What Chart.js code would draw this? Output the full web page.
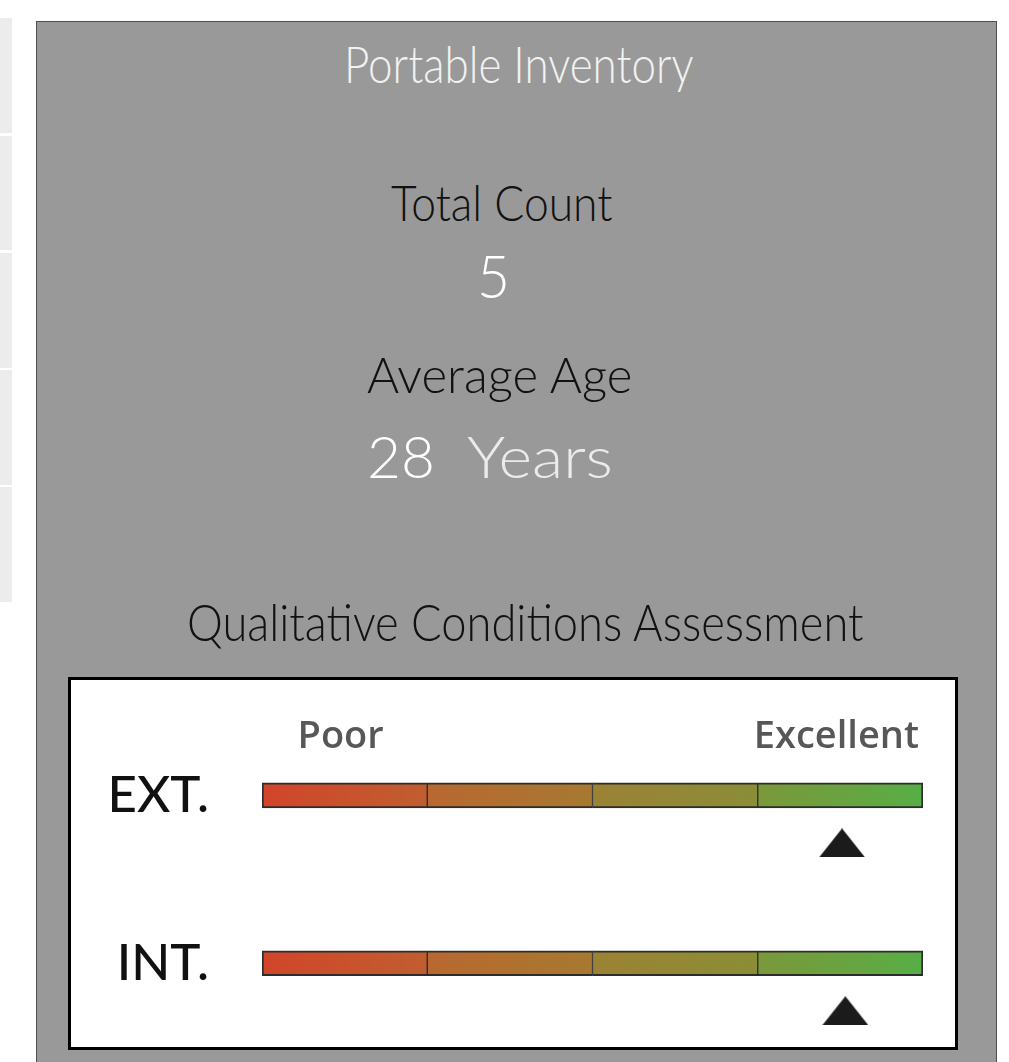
<!DOCTYPE html>
<html>
<head>
<meta charset="utf-8">
<script src="https://cdn.jsdelivr.net/npm/chart.js@4.4.1/dist/chart.umd.min.js"></script>
<style>
  html, body { margin: 0; padding: 0; background: #ffffff; width: 1009px; height: 1062px; overflow: hidden; }
  .side { position: absolute; left: 0; width: 12px; background: #ececec; }
  #panel { position: absolute; left: 36px; top: 21px; width: 961px; height: 1060px; background: #999999; border: 1px solid #4f4f4f; box-sizing: border-box; }
  .txt { position: absolute; left: 0; top: 0; white-space: nowrap; line-height: 1.2; font-family: Lato, "Open Sans", sans-serif; transform-origin: 0 0; }
  #box { position: absolute; left: 68px; top: 677px; width: 890px; height: 373px; background: #ffffff; border: 3px solid #000000; box-sizing: border-box; }
  #wrap { position: absolute; left: 71px; top: 680px; width: 884px; height: 422px; }
</style>
</head>
<body>
<div class="side" style="top:18px;height:115px"></div>
<div class="side" style="top:136px;height:114px"></div>
<div class="side" style="top:253px;height:115px"></div>
<div class="side" style="top:370px;height:115px"></div>
<div class="side" style="top:487px;height:115px"></div>
<div id="panel"></div>
<div id="box"></div>
<div id="wrap"><canvas id="c"></canvas></div>
<script>
// ---------------- data ----------------
const title = 'Portable Inventory';
const countLabel = 'Total Count';
const totalCount = 5;
const ageLabel = 'Average Age';
const averageAge = 28;
const ageUnit = 'Years';
const assessmentTitle = 'Qualitative Conditions Assessment';

const rows = ['EXT.', 'INT.'];                    // assessed aspects
const bandLabels = ['Poor', '', '', 'Excellent']; // condition bands
const bandWidths = [1, 1, 1, 1];                  // width of each band on the rating scale
const ratings = [3.51, 3.53];                     // marker position per row (0 = worst, 4 = best)

// ---------------- text layout ----------------
const textLayout = [
  { text: title,                cx: 518.5, base: 83,  size: 52, w: 347, color: '#f2f2f2', weight: 300 },
  { text: countLabel,           cx: 501.5, base: 221, size: 50, w: 219, color: '#111111', weight: 300 },
  { text: String(totalCount),   cx: 493,   base: 298, size: 60, w: 30,  color: '#ffffff', weight: 300 },
  { text: ageLabel,             cx: 499.5, base: 393, size: 49, w: 263, color: '#111111', weight: 300 },
  { text: String(averageAge),   cx: 400.5, base: 478, size: 57, w: 65,  color: '#ffffff', weight: 300 },
  { text: ageUnit,              cx: 539.5, base: 478, size: 57, w: 143, color: '#ebebeb', weight: 300 },
  { text: assessmentTitle,      cx: 525,   base: 641, size: 52, w: 674, color: '#111111', weight: 300 }
];

textLayout.forEach(t => {
  const el = document.createElement('div');
  el.className = 'txt';
  el.style.fontSize = t.size + 'px';
  el.style.fontWeight = t.weight;
  el.style.color = t.color;
  const span = document.createElement('span');
  span.textContent = t.text;
  const mark = document.createElement('span');
  mark.style.cssText = 'display:inline-block;width:0;height:0;vertical-align:baseline';
  el.appendChild(span);
  el.appendChild(mark);
  document.body.appendChild(el);
  const adv = span.getBoundingClientRect().width;
  const baseOff = mark.offsetTop;
  const k = (t.w + 0.05 * t.size) / adv;
  el.style.left = (t.cx - (adv * k) / 2) + 'px';
  el.style.top = (t.base - baseOff) + 'px';
  el.style.transform = 'scaleX(' + k + ')';
});

// ---------------- chart ----------------
const total = bandWidths.reduce((a, b) => a + b, 0);
const MARKER_DROP = 0.283; // marker sits below its bar (in row units)

const bandColors = [
  ['#d1452a', '#c05e30'],
  ['#b9682f', '#a67931'],
  ['#9b8234', '#8b8d37'],
  ['#7b983a', '#57ae46']
];

function bandGradient(k) {
  return function (c) {
    const chart = c.chart;
    if (!chart.chartArea) return bandColors[k][0];
    const xs = chart.scales.x;
    let start = 0;
    for (let i = 0; i < k; i++) start += bandWidths[i];
    const x0 = xs.getPixelForValue(start);
    const x1 = xs.getPixelForValue(start + bandWidths[k]);
    const g = chart.ctx.createLinearGradient(x0, 0, x1, 0);
    g.addColorStop(0, bandColors[k][0]);
    g.addColorStop(1, bandColors[k][1]);
    return g;
  };
}

// triangle marker image
const tri = document.createElement('canvas');
tri.width = 46; tri.height = 29;
(function () {
  const t = tri.getContext('2d');
  t.fillStyle = '#1b1b1b';
  t.beginPath();
  t.moveTo(0, 29); t.lineTo(23, 0); t.lineTo(46, 29); t.closePath();
  t.fill();
})();

const bandDatasets = bandWidths.map((bw, k) => ({
  type: 'bar',
  label: bandLabels[k] || ('band ' + (k + 1)),
  indexAxis: 'y',
  stack: 'bands',
  data: rows.map((r, i) => ({ x: bw, y: i + 1 })),
  backgroundColor: bandGradient(k),
  borderColor: '#2c2c2c',
  borderWidth: { top: 2, bottom: 2, left: k === 0 ? 2 : 1, right: k === bandWidths.length - 1 ? 2 : 1 },
  borderSkipped: false,
  barThickness: 25,
  order: 2
}));

const markerDataset = {
  type: 'scatter',
  label: 'rating',
  indexAxis: 'x',
  stack: 'markers',
  clip: false,
  data: ratings.map((v, i) => ({ x: v, y: i + 1 + MARKER_DROP })),
  pointStyle: tri,
  pointRadius: 23,
  pointHoverRadius: 23,
  order: 1
};

new Chart(document.getElementById('c'), {
  type: 'bar',
  data: { datasets: [markerDataset, ...bandDatasets] },
  options: {
    indexAxis: 'y',
    responsive: true,
    maintainAspectRatio: false,
    animation: false,
    devicePixelRatio: 1,
    layout: { padding: { left: 0, right: 32, top: 0, bottom: 70 } },
    plugins: { legend: { display: false }, tooltip: { enabled: false }, title: { display: false } },
    scales: {
      x: {
        type: 'linear',
        position: 'top',
        min: 0,
        max: total,
        stacked: true,
        offset: false,
        grid: { display: false, drawTicks: false },
        border: { display: false },
        afterBuildTicks: (s) => { s.ticks = bandLabels.map((l, i) => ({ value: i + 0.5 })); },
        afterFit: (s) => { s.height = 73.5; },
        ticks: {
          autoSkip: false, maxRotation: 0, minRotation: 0,
          padding: -3,
          labelOffset: -4,
          color: '#575757',
          font: { family: '"Open Sans", Lato, sans-serif', size: 38, weight: '600', lineHeight: 1 },
          callback: (v, i) => bandLabels[i]
        }
      },
      y: {
        type: 'linear',
        reverse: true,
        min: 0.75,
        max: 2.41,
        stacked: true,
        offset: false,
        grid: { display: false, drawTicks: false, offset: false },
        border: { display: false },
        afterBuildTicks: (s) => { s.ticks = rows.map((r, i) => ({ value: i + 1 })); },
        afterFit: (s) => { s.width = 191; },
        ticks: {
          autoSkip: false,
          padding: 53,
          color: '#111111',
          font: { family: 'Lato, "Open Sans", sans-serif', size: 51, weight: '500', lineHeight: 0.5 },
          callback: (v, i) => rows[i]
        }
      }
    }
  }
});
</script>
</body>
</html>
